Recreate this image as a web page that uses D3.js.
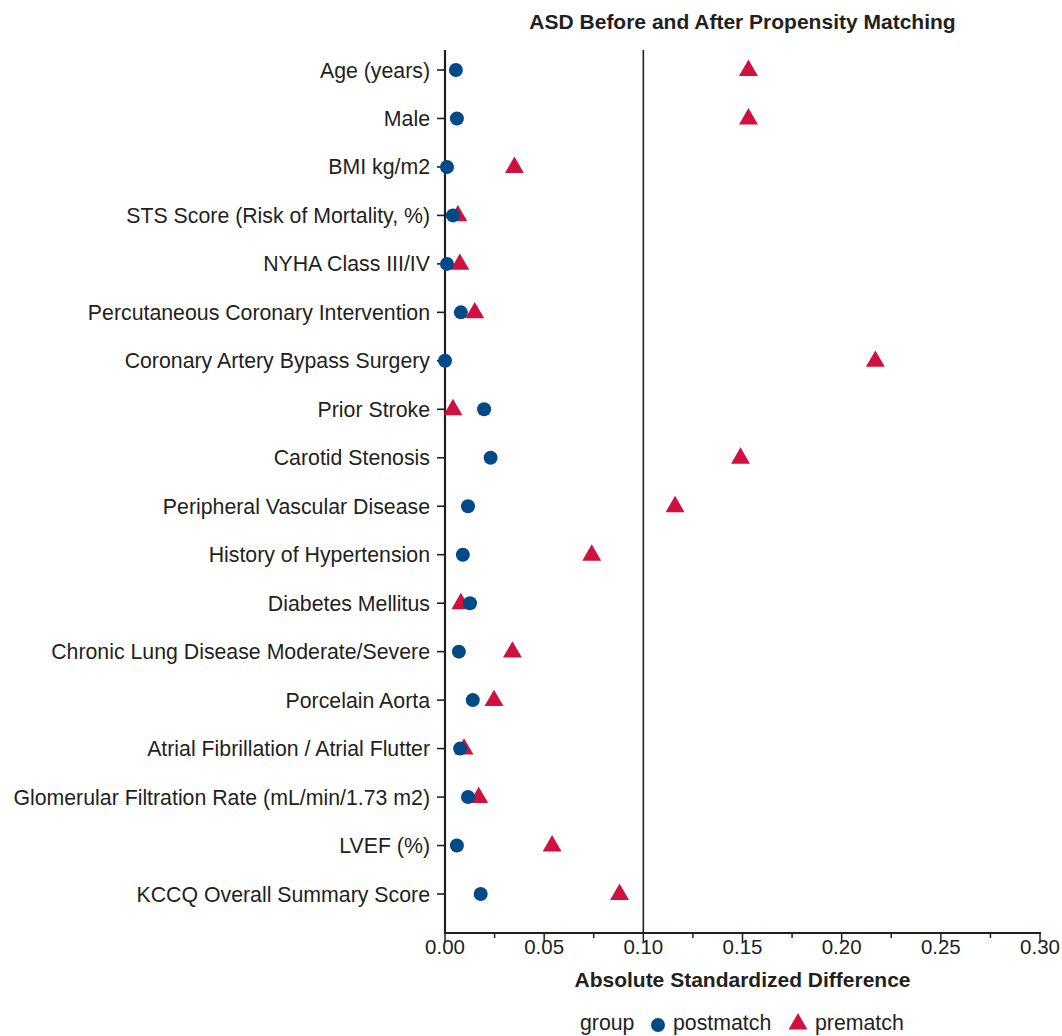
<!DOCTYPE html>
<html>
<head>
<meta charset="utf-8">
<script src="https://cdn.jsdelivr.net/npm/d3@7"></script>
<style>
  body { margin: 0; background: #fff; }
  text { font-family: "Liberation Sans", Arial, sans-serif; fill: #231f20; }
</style>
</head>
<body>
<script>
// covariates, top to bottom
var categories = ["Age (years)", "Male", "BMI kg/m2 ", "STS Score (Risk of Mortality, %)",
  "NYHA Class III/IV", "Percutaneous Coronary Intervention", "Coronary Artery Bypass Surgery",
  "Prior Stroke ", "Carotid Stenosis", "Peripheral Vascular Disease", "History of Hypertension",
  "Diabetes Mellitus", "Chronic Lung Disease Moderate/Severe", "Porcelain Aorta",
  "Atrial Fibrillation / Atrial Flutter", "Glomerular Filtration Rate (mL/min/1.73 m2)",
  "LVEF (%)", "KCCQ Overall Summary Score"];
var postmatch = [0.0055, 0.006, 0.001, 0.004, 0.001, 0.008, 0.0, 0.0197, 0.023, 0.0116,
  0.009, 0.0126, 0.007, 0.014, 0.0076, 0.0116, 0.006, 0.018];
var prematch = [0.153, 0.153, 0.035, 0.0065, 0.0075, 0.015, 0.217, 0.004, 0.149, 0.116,
  0.074, 0.008, 0.034, 0.0247, 0.0096, 0.017, 0.054, 0.088];
var xTicks = [0, 0.05, 0.10, 0.15, 0.20, 0.25, 0.30];

var width = 1062, height = 1036;
var plotLeft = 445, plotRight = 1040, plotTop = 50, plotBottom = 933;
var blue = "#004a87", red = "#d0103f";

var svg = d3.select("body").append("svg")
  .attr("width", width).attr("height", height);

var x = d3.scaleLinear().domain([0, 0.3]).range([plotLeft, plotRight]);
var y = d3.scalePoint().domain(categories).range([70, 894]);

// reference line at 0.1
svg.append("line")
  .attr("x1", x(0.1)).attr("x2", x(0.1))
  .attr("y1", plotTop).attr("y2", plotBottom)
  .attr("stroke", "#231f20").attr("stroke-width", 1.6);

// x axis: major + minor ticks
var xAxis = svg.append("g").attr("transform", "translate(0," + plotBottom + ")");
xAxis.append("line").attr("x1", plotLeft - 1).attr("x2", plotRight + 1)
  .attr("stroke", "#231f20").attr("stroke-width", 2.2);
xAxis.selectAll(".minor").data(d3.range(0.025, 0.3, 0.05)).enter().append("line")
  .attr("x1", function(d){ return x(d); }).attr("x2", function(d){ return x(d); })
  .attr("y1", 0).attr("y2", 5).attr("stroke", "#231f20").attr("stroke-width", 1.5);
xAxis.selectAll(".major").data(xTicks).enter().append("line")
  .attr("x1", function(d){ return x(d); }).attr("x2", function(d){ return x(d); })
  .attr("y1", 0).attr("y2", 9).attr("stroke", "#231f20").attr("stroke-width", 1.5);
xAxis.selectAll(".lab").data(xTicks).enter().append("text")
  .attr("x", function(d){ return x(d); }).attr("y", 21)
  .attr("text-anchor", "middle").attr("font-size", 20.5)
  .text(function(d){ return d.toFixed(2); });

// y axis
var yAxis = svg.append("g");
yAxis.append("line").attr("x1", plotLeft).attr("x2", plotLeft)
  .attr("y1", plotTop).attr("y2", plotBottom + 1)
  .attr("stroke", "#231f20").attr("stroke-width", 2.2);
yAxis.selectAll(".tick").data(categories).enter().append("line")
  .attr("x1", plotLeft - 8).attr("x2", plotLeft)
  .attr("y1", function(d){ return y(d); }).attr("y2", function(d){ return y(d); })
  .attr("stroke", "#231f20").attr("stroke-width", 1.6);
yAxis.selectAll(".lab").data(categories).enter().append("text")
  .attr("x", 430).attr("y", function(d){ return y(d) + 7.5; })
  .attr("text-anchor", "end").attr("font-size", 21.3)
  .text(function(d){ return d; });

// markers
var tri = d3.symbol().type(d3.symbolTriangle).size(155);
svg.selectAll(".pre").data(prematch).enter().append("path")
  .attr("d", tri)
  .attr("transform", function(d, i){ return "translate(" + x(d) + "," + (y(categories[i]) + 0.5) + ")"; })
  .attr("fill", red);
svg.selectAll(".post").data(postmatch).enter().append("circle")
  .attr("cx", function(d){ return x(d); })
  .attr("cy", function(d, i){ return y(categories[i]); })
  .attr("r", 7).attr("fill", blue);

// titles
svg.append("text").attr("x", (plotLeft + plotRight) / 2).attr("y", 29)
  .attr("text-anchor", "middle").attr("font-size", 21).attr("font-weight", "bold")
  .text("ASD Before and After Propensity Matching");
svg.append("text").attr("x", (plotLeft + plotRight) / 2).attr("y", 987)
  .attr("text-anchor", "middle").attr("font-size", 21).attr("font-weight", "bold")
  .text("Absolute Standardized Difference");

// legend
var leg = svg.append("g").attr("transform", "translate(0,1030)");
leg.append("text").attr("x", 580).attr("y", 0).attr("font-size", 21.3).text("group");
leg.append("circle").attr("cx", 658).attr("cy", -5).attr("r", 7).attr("fill", blue);
leg.append("text").attr("x", 673).attr("y", 0).attr("font-size", 21.3).text("postmatch");
leg.append("path").attr("d", tri).attr("transform", "translate(798,-6)").attr("fill", red);
leg.append("text").attr("x", 815).attr("y", 0).attr("font-size", 21.3).text("prematch");
</script>
</body>
</html>
